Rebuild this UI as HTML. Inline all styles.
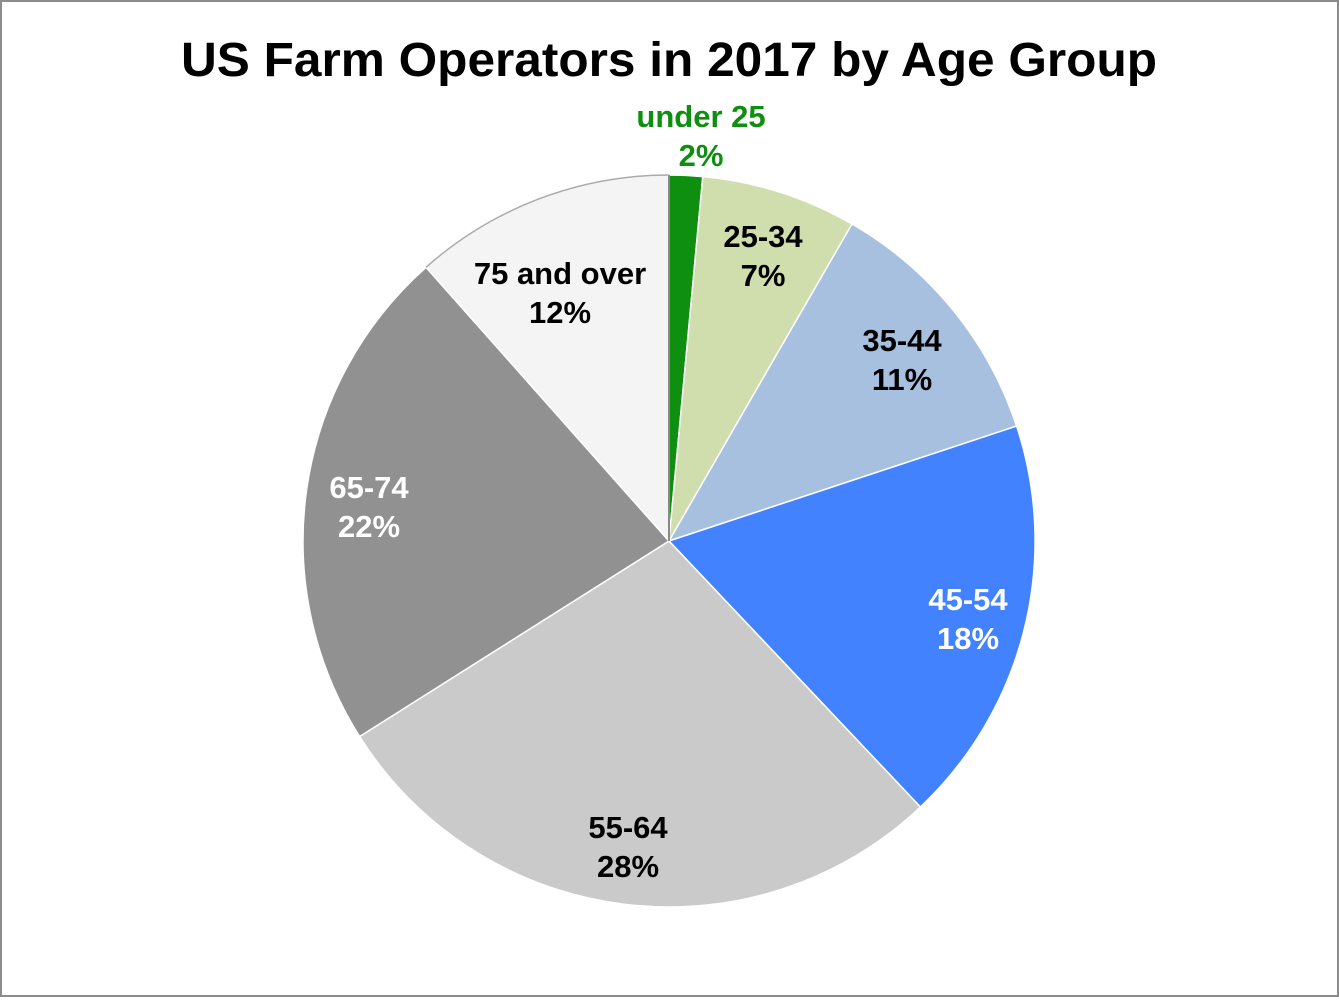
<!DOCTYPE html>
<html><head><meta charset="utf-8"><style>
html,body{margin:0;padding:0;background:#fff}
body{width:1339px;height:997px;overflow:hidden}
</style></head><body>
<svg width="1339" height="997" viewBox="0 0 1339 997" xmlns="http://www.w3.org/2000/svg" font-family="Liberation Sans, sans-serif" font-weight="bold">
<rect x="1" y="1" width="1337" height="995" fill="#fff" stroke="#8c8c8c" stroke-width="2"/>
<text x="669" y="76" font-size="48" text-anchor="middle" fill="#000" textLength="976" lengthAdjust="spacingAndGlyphs">US Farm Operators in 2017 by Age Group</text>
<g transform="translate(669,541)" stroke="#fff" stroke-width="1.5">
<path d="M0,0 L0,-366 A366,366 0 0 1 33.8,-364.4 Z" fill="#0f8f0f"/>
<path d="M0,0 L33.8,-364.4 A366,366 0 0 1 183,-317 Z" fill="#d0ddac"/>
<path d="M0,0 L183,-317 A366,366 0 0 1 347.6,-114.9 Z" fill="#a8c0e0"/>
<path d="M0,0 L347.6,-114.9 A366,366 0 0 1 251.4,266 Z" fill="#4282ff"/>
<path d="M0,0 L251.4,266 A366,366 0 0 1 -309.4,195.5 Z" fill="#cacaca"/>
<path d="M0,0 L-309.4,195.5 A366,366 0 0 1 -243,-273.7 Z" fill="#919191"/>
<path d="M0,0 L-243,-273.7 A366,366 0 0 1 0,-366 Z" fill="#f4f4f4"/>
<line x1="0" y1="0" x2="0" y2="-366" stroke="#888" stroke-width="2"/>
<path d="M-243,-273.7 A366,366 0 0 1 0,-366" fill="none" stroke="#aaa" stroke-width="1.5"/>
</g>
<g font-size="31" text-anchor="middle">
<text x="701" y="127" fill="#0f8f0f">under 25</text>
<text x="701" y="166" fill="#0f8f0f">2%</text>
<text x="763" y="247">25-34</text>
<text x="763" y="286">7%</text>
<text x="902" y="351">35-44</text>
<text x="902" y="390">11%</text>
<text x="968" y="610" fill="#fff">45-54</text>
<text x="968" y="649" fill="#fff">18%</text>
<text x="628" y="838">55-64</text>
<text x="628" y="877">28%</text>
<text x="369" y="498" fill="#fff">65-74</text>
<text x="369" y="537" fill="#fff">22%</text>
<text x="560" y="284">75 and over</text>
<text x="560" y="323">12%</text>
</g>
</svg>
</body></html>
